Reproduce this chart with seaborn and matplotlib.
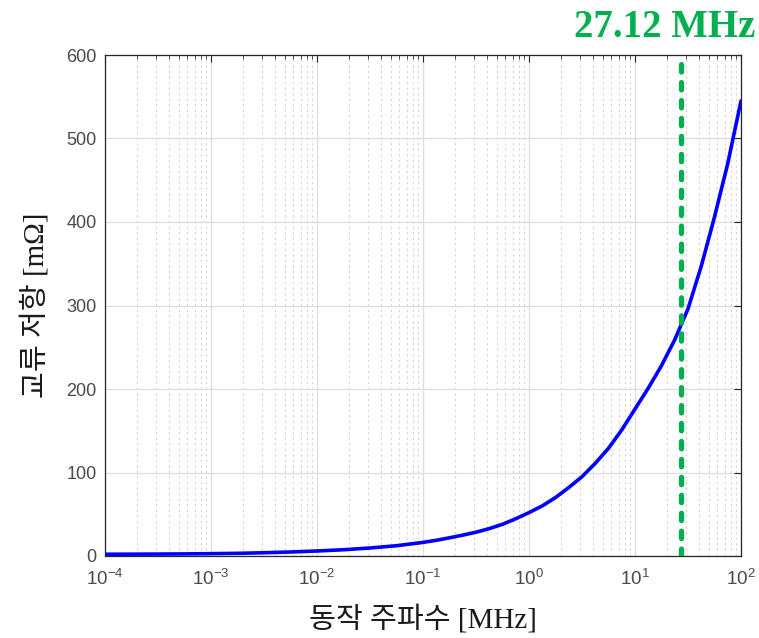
import numpy as np
import pandas as pd
import matplotlib
matplotlib.use("Agg")
import matplotlib.pyplot as plt
from matplotlib.ticker import LogLocator, FixedLocator, NullFormatter
import seaborn as sns

# Operating frequency (MHz) as log10 values
log_freq = [-4.0, -3.75, -3.5, -3.25, -3.0, -2.75, -2.5, -2.25, -2.0,
            -1.75, -1.5, -1.25, -1.0, -0.875, -0.75, -0.625, -0.5, -0.375,
            -0.25, -0.125, 0.0, 0.125, 0.25, 0.375, 0.5, 0.625, 0.75, 0.875,
            1.0, 1.125, 1.25, 1.375, 1.5, 1.625, 1.75, 1.875, 2.0]
# AC resistance (mOhm)
ac_resistance = [2.1, 2.2, 2.3, 2.5, 2.8, 3.2, 3.9, 4.8, 6.0,
                 7.5, 9.6, 12.3, 16.3, 18.8, 21.8, 25.0, 28.5, 32.8,
                 38.0, 44.6, 52.0, 60.0, 70.0, 82.0, 95.0, 111.0, 129.0, 151.0,
                 176.0, 201.0, 228.0, 259.0, 296.0, 347.0, 406.0, 470.0, 545.0]
marker_freq = 27.12
marker_label = "27.12 MHz"
x_label = "동작 주파수 [MHz]"
y_label = "교류 저항 [mΩ]"
y_ticks = [0, 100, 200, 300, 400, 500, 600]
x_ticks = [1e-4, 1e-3, 1e-2, 1e-1, 1e0, 1e1, 1e2]
x_tick_labels = [r"$10^{-4}$", r"$10^{-3}$", r"$10^{-2}$", r"$10^{-1}$",
                 r"$10^{0}$", r"$10^{1}$", r"$10^{2}$"]

df = pd.DataFrame({"freq": [10.0 ** v for v in log_freq], "res": ac_resistance})

sns.set_style("white")
plt.rcParams["font.family"] = ["Liberation Sans", "DejaVu Sans"]
plt.rcParams["mathtext.fontset"] = "custom"
plt.rcParams["mathtext.rm"] = "Liberation Sans"

fig = plt.figure(figsize=(7.59, 6.38), dpi=100)
ax = fig.add_axes([105 / 759, 1 - 556 / 638, 636 / 759, 501 / 638])

sns.lineplot(data=df, x="freq", y="res", ax=ax, color="#0000ff", lw=2.6, zorder=4)
ax.set_xscale("log")
ax.set_xlim(1e-4, 1e2)
ax.set_ylim(0, 600)

ax.axvline(marker_freq, color="#00b050", lw=3.8, linestyle=(0, (1.4, 2.0)),
           dash_capstyle="round", zorder=5)

# Ticks and grid
ax.xaxis.set_major_locator(FixedLocator(x_ticks))
ax.set_xticklabels(x_tick_labels)
ax.xaxis.set_minor_locator(LogLocator(base=10, subs=np.arange(2, 10), numticks=20))
ax.xaxis.set_minor_formatter(NullFormatter())
ax.yaxis.set_major_locator(FixedLocator(y_ticks))
ax.tick_params(which="both", direction="in", top=True, right=True,
               colors="#262626", labelcolor="#4a4a4a", labelsize=13)
ax.tick_params(axis="x", which="major", labelsize=13.5, pad=9)
ax.tick_params(which="major", length=5, width=0.8)
ax.tick_params(which="minor", length=3, width=0.6)
ax.tick_params(axis="y", which="major", pad=6)

ax.grid(which="major", color="#dedede", lw=0.9, linestyle="-", zorder=0)
ax.grid(which="minor", axis="x", color="#d4d4d4", lw=0.8, linestyle=(0, (2, 3)), zorder=0)
ax.set_axisbelow(True)

for s in ax.spines.values():
    s.set_color("#262626")
    s.set_linewidth(0.9)
    s.set_visible(True)

label_font = ["Liberation Serif", "Noto Sans CJK KR"]
ax.set_xlabel(x_label, family=label_font, fontsize=21, color="#1a1a1a", labelpad=11)
ax.set_ylabel(y_label, family=label_font, fontsize=21, color="#1a1a1a", labelpad=12)

fig.text(755 / 759, 1 - 37 / 638, marker_label, ha="right", va="baseline",
         family="Liberation Serif", fontweight="bold", fontsize=28, color="#00b050")

fig.savefig("out.png", dpi=100)
